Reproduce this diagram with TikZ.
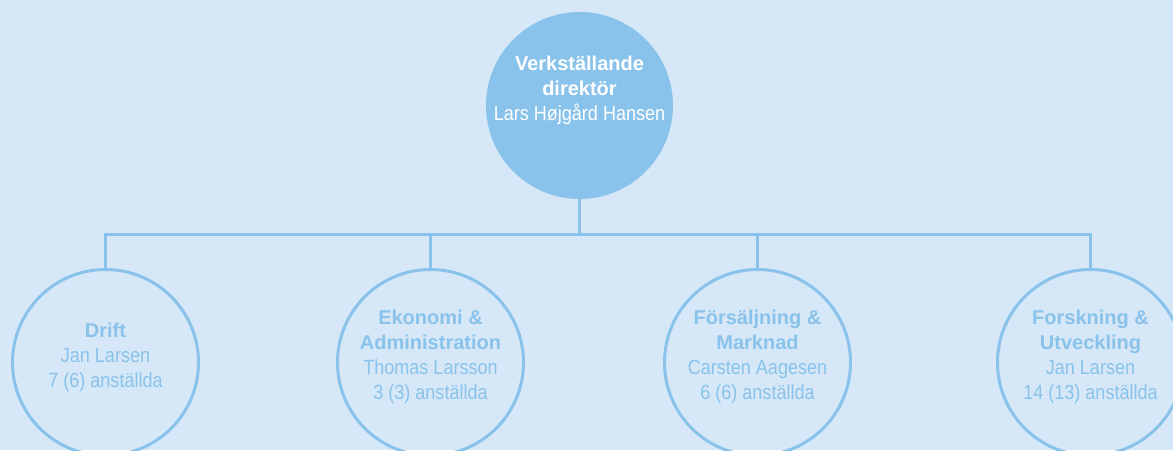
\documentclass[tikz,border=0pt]{standalone}
\usepackage{fontspec}
\setmainfont{Liberation Sans}
\newfontfamily\condfont[FakeStretch=0.88]{Liberation Sans}
\definecolor{bg}{RGB}{214,232,247}
\definecolor{blu}{RGB}{137,194,234}
\newcommand{\hdline}[1]{{\rmfamily\fontsize{20}{25}\selectfont\bfseries #1}}
\begin{document}
\begin{tikzpicture}[x=1pt,y=-1pt,
  conn/.style={draw=blu,line width=3pt},
  topcirc/.style={circle,fill=blu,minimum size=187pt,inner sep=0pt},
  subcirc/.style={circle,draw=blu,line width=3pt,minimum size=186pt,inner sep=0pt},
  txt/.style={align=center,inner sep=0pt,font=\condfont\fontsize{20.5}{25}\selectfont}]
\fill[bg] (0,0) rectangle (1173,450);
\useasboundingbox (0,0) rectangle (1173,450);
\clip (0,0) rectangle (1173,450);
\node[topcirc] (ceo) at (579.5,105.5) {};
\node[subcirc] (d1) at (105.5,362.5) {};
\node[subcirc] (d2) at (430.5,362.5) {};
\node[subcirc] (d3) at (757.5,362.5) {};
\node[subcirc] (d4) at (1090.5,362.5) {};
\coordinate (j) at (578,234);
\draw[conn] (ceo.south) -- (ceo.south |- j);
\draw[conn] (d1.north) -- (d1.north |- j) -- (d4.north |- j) -- (d4.north);
\draw[conn] (d2.north) -- (d2.north |- j);
\draw[conn] (d3.north) -- (d3.north |- j);
\node[txt,text=white] (tceo) at (579.5,90) {\hdline{Verkställande}\\\hdline{direktör}\\Lars Højgård Hansen};
\node[txt,text=blu] (t1) at (105.5,357) {\hdline{Drift}\\Jan Larsen\\7 (6) anställda};
\node[txt,text=blu] (t2) at (430.5,357) {\hdline{Ekonomi \&}\\\hdline{Administration}\\Thomas Larsson\\3 (3) anställda};
\node[txt,text=blu] (t3) at (757.5,357) {\hdline{Försäljning \&}\\\hdline{Marknad}\\Carsten Aagesen\\6 (6) anställda};
\node[txt,text=blu] (t4) at (1090.5,357) {\hdline{Forskning \&}\\\hdline{Utveckling}\\Jan Larsen\\14 (13) anställda};
\end{tikzpicture}
\end{document}
